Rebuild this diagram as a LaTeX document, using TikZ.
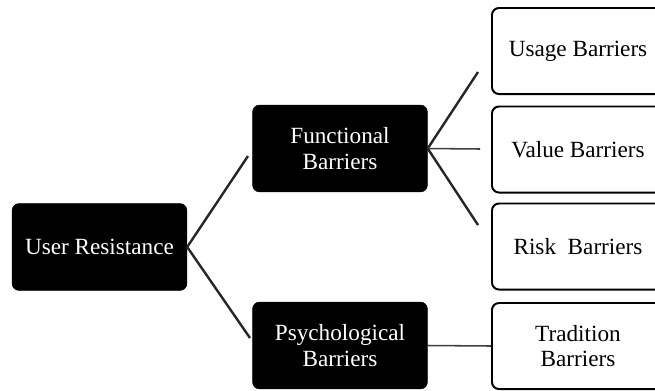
\documentclass[tikz,border=0pt]{standalone}
\usepackage{fontspec}
\setmainfont{Liberation Serif}
\usepackage{tikz}
\usetikzlibrary{positioning, calc}

\begin{document}
\begin{tikzpicture}[
    x=0.025cm, y=-0.025cm,
    darkbox/.style={rectangle, rounded corners=5pt, draw=black, fill=black, text=white,
                minimum width=4.37cm, minimum height=2.17cm, align=center,
                font=\fontsize{16.5}{18}\selectfont},
    lightbox/.style={rectangle, rounded corners=5pt, draw=black, line width=1.4pt, fill=white,
                minimum width=4.3cm, minimum height=2.15cm, align=center,
                font=\fontsize{16.5}{18}\selectfont},
    link/.style={line width=1.7pt, color=black!85},
    flat/.style={line width=1.1pt, color=black!75}
]
\useasboundingbox (0,0) rectangle (655,390);
\clip (0,0) rectangle (655,390);

\node[darkbox] (user)  at (99.5,247)  {User Resistance};
\node[darkbox] (func)  at (340,148.5) {Functional\\Barriers};
\node[darkbox] (psych) at (340,345.5) {Psychological\\Barriers};

\node[lightbox] (usage)  at (578,51)    {Usage Barriers};
\node[lightbox] (value)  at (578,149.5) {Value Barriers};
\node[lightbox] (risk)   at (578,246.5) {Risk~ Barriers};
\node[lightbox] (tradit) at (578,346)   {Tradition\\Barriers};

% free ends of the fan lines stop short of the boxes
\coordinate (toUsage) at (478,72);
\coordinate (toValue) at (480,149);
\coordinate (toRisk)  at (478,225);
\coordinate (toFunc)  at (248,156);
\coordinate (toPsych) at (250,338);

\draw[link] (user.east) -- (toFunc);
\draw[link] (user.east) -- (toPsych);
\draw[link] (func.east) -- (toUsage);
\draw[flat] (func.east) -- (toValue);
\draw[link] (func.east) -- (toRisk);
\draw[flat] (psych.east) -- (tradit.west);
\end{tikzpicture}
\end{document}
